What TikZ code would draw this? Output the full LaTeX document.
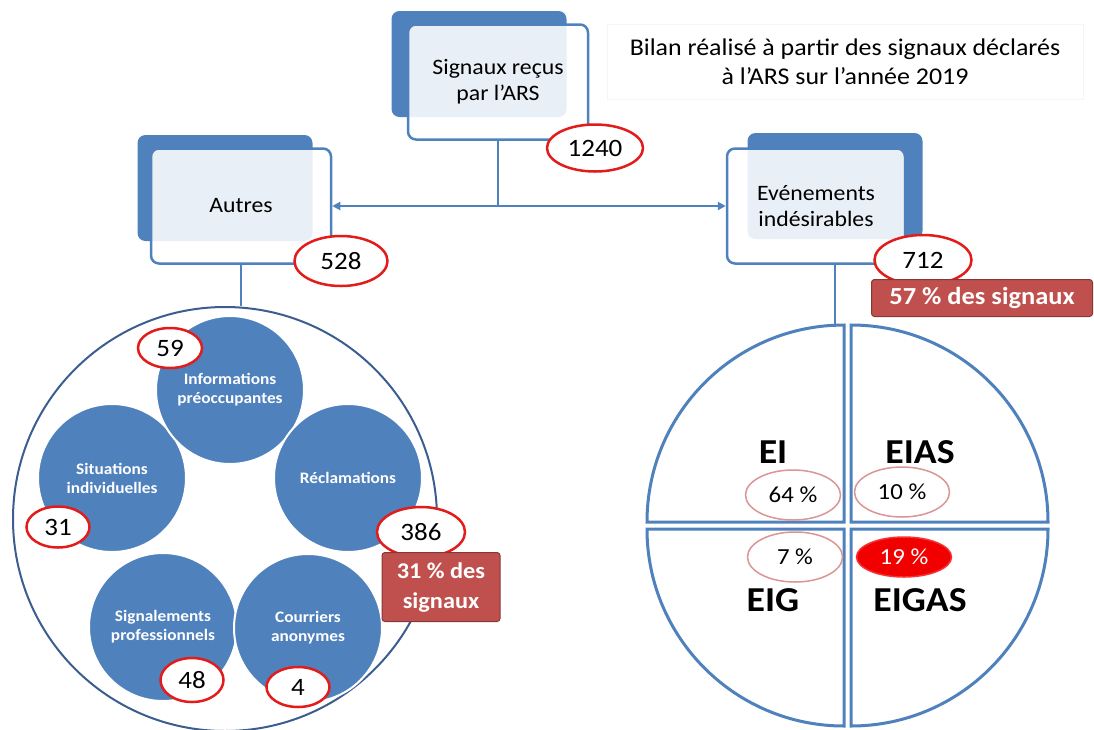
\documentclass[tikz,border=0pt]{standalone}
\usepackage{fontspec}
\setmainfont{Carlito}[FakeStretch=1.08]
\usepackage{tikz}
\usetikzlibrary{calc, positioning, shapes.geometric, arrows.meta}

\definecolor{bleu}{HTML}{4F81BD}
\definecolor{bleufonce}{HTML}{3B5D8F}
\definecolor{rouge}{HTML}{E21B1B}
\definecolor{brique}{HTML}{C0504D}
\definecolor{rose}{HTML}{D99694}
\definecolor{vif}{HTML}{F20000}

\tikzset{
  fond/.style={fill=bleu, rounded corners=8pt, minimum width=175pt, minimum height=106pt},
  boite/.style={draw=bleu, line width=2.5pt, fill=white, fill opacity=0.88, text opacity=1,
    rounded corners=8pt, align=center, minimum width=180pt, minimum height=115pt,
    font=\fontsize{22}{26}\selectfont},
  nombre/.style={ellipse, draw=rouge, line width=2.5pt, fill=white, inner sep=0pt,
    font=\fontsize{25}{28}\selectfont},
  bulle/.style={circle, fill=bleu, draw=white, line width=2pt, minimum size=148pt, inner sep=0pt,
    text=white, align=center, font=\bfseries\fontsize{16}{19}\selectfont},
  pourcent/.style={fill=brique, draw=brique!70!black, line width=1pt, rounded corners=3pt,
    text=white, align=center, inner sep=0pt},
  taux/.style={ellipse, draw=rose, line width=1.5pt, inner sep=0pt, minimum width=95pt,
    minimum height=50pt, font=\fontsize{23}{26}\selectfont},
  sigle/.style={font=\bfseries\fontsize{35}{40}\selectfont},
  quart/.style={draw=bleu, line width=3pt, fill=white},
  lien/.style={draw=bleu, line width=2.5pt},
}

\begin{document}
\begin{tikzpicture}[x=1pt, y=-1pt]
  \useasboundingbox (0,0) rectangle (1094,729);

  % boites du haut
  \node[fond] at (479,64) {};
  \node[fond] at (225,188) {};
  \node[fond] at (835,186) {};
  \node[boite] (signaux) at (498,82) {Signaux reçus\\par l’ARS};
  \node[boite] (autres) at (241,206) {Autres};
  \node[boite, minimum width=178pt] (ei) at (816,206) {Evénements\\indésirables};

  \node[draw=black!4, line width=1pt, minimum width=476pt, minimum height=75pt, align=center,
    font=\fontsize{24}{29}\selectfont] (bilan) at (845,62)
    {Bilan réalisé à partir des signaux déclarés\\à l’ARS sur l’année 2019};

  % liaisons
  \coordinate (jonction) at (signaux.south |- autres.east);
  \draw[lien] (signaux.south) -- (jonction);
  \draw[lien, {Triangle[length=8pt, width=8pt]}-{Triangle[length=8pt, width=8pt]}] (autres.east) -- (ei.west);

  % autres signaux
  \node[circle, draw=bleufonce, line width=2pt, minimum size=424pt, inner sep=0pt] (anneau) at (225,519) {};
  \draw[lien] (autres.south) -- (autres.south |- anneau.north);

  \node[bulle] (situ) at (112,478) {Situations\\individuelles};
  \node[bulle] (info) at (230,390) {Informations\\préoccupantes};
  \node[bulle] (recl) at (348,478) {Réclamations};
  \node[bulle] (pro) at (163,627) {Signalements\\professionnels};
  \node[bulle] (courrier) at (308,628) {Courriers\\anonymes};

  \node[nombre, minimum width=64pt, minimum height=40pt] (n59) at (170,348) {59};
  \node[nombre, minimum width=63pt, minimum height=41pt] (n31) at (58,527) {31};
  \node[nombre, minimum width=88pt, minimum height=50pt] (n386) at (421,532) {386};
  \node[nombre, minimum width=63pt, minimum height=44pt] (n48) at (192,680) {48};
  \node[nombre, minimum width=63pt, minimum height=40pt] (n4) at (298,687) {4};
  \node[pourcent, minimum width=118pt, minimum height=69pt,
    font=\bfseries\fontsize{22.5}{30}\selectfont] (p31) at (441,587) {31 \% des\\signaux};

  % evenements indesirables
  \coordinate (O) at (847.5,525.5);
  \draw[quart] ($(O)+(3.5,-3.5)$) -- ++(197,0) arc[start angle=0, end angle=-90, radius=197] -- cycle;
  \draw[quart] ($(O)+(-3.5,-3.5)$) -- ++(-197,0) arc[start angle=180, end angle=270, radius=197] -- cycle;
  \draw[quart] ($(O)+(-3.5,3.5)$) -- ++(-197,0) arc[start angle=180, end angle=90, radius=197] -- cycle;
  \draw[quart] ($(O)+(3.5,3.5)$) -- ++(197,0) arc[start angle=0, end angle=90, radius=197] -- cycle;
  \coordinate (haut) at (835,327);
  \draw[lien] (ei.south -| haut) -- (haut);

  \node[sigle] (eiq) at (773,452) {EI};
  \node[sigle] (eias) at (920,452) {EIAS};
  \node[sigle] (eig) at (773,600) {EIG};
  \node[sigle] (eigas) at (920,600) {EIGAS};

  \node[taux] (t64) at (793,495) {64 \%};
  \node[taux] (t10) at (902,492) {10 \%};
  \node[taux] (t7) at (795,557) {7 \%};
  \node[taux, fill=vif, draw=vif!80!white, minimum height=40pt, text=white] (t19) at (904,557) {19 \%};

  % nombres des boites
  \node[nombre, minimum width=96pt, minimum height=47pt] (n1240) at (595,148) {1240};
  \node[nombre, minimum width=93pt, minimum height=50pt] (n528) at (341,261) {528};
  \node[nombre, minimum width=97pt, minimum height=50pt] (n712) at (923,260) {712};
  \node[pourcent, minimum width=221pt, minimum height=37pt,
    font=\bfseries\fontsize{24.5}{28}\selectfont] (p57) at (982,298) {57 \% des signaux};
\end{tikzpicture}
\end{document}
